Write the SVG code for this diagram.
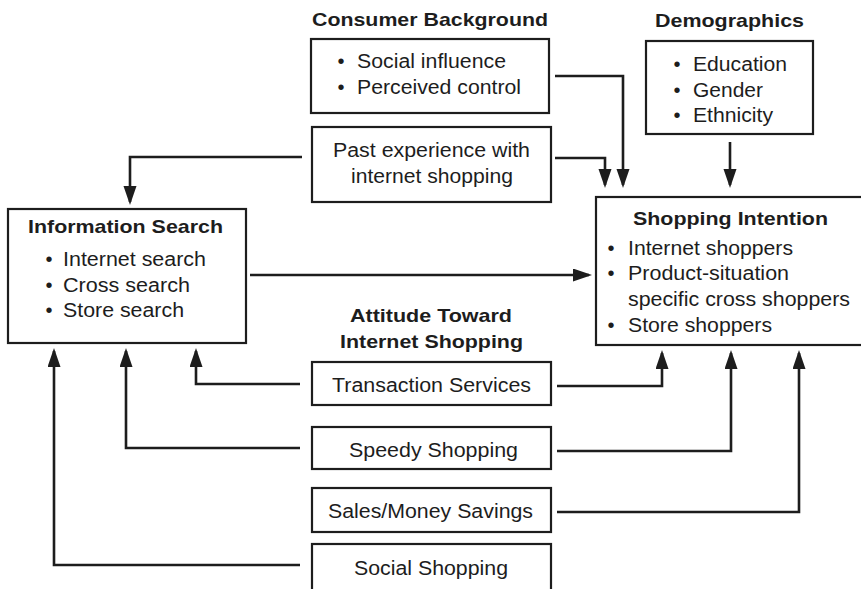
<svg xmlns="http://www.w3.org/2000/svg" width="861" height="589" viewBox="0 0 861 589">
  <style>
    .t { font-family: "Liberation Sans", Arial, Helvetica, sans-serif; font-size: 20px; fill: #1d1d1d; }
    .h { font-weight: bold; font-size: 19px; }
    .box { fill: #ffffff; stroke: #1d1d1d; stroke-width: 2.2; }
    .ln { fill: none; stroke: #1d1d1d; stroke-width: 2.6; stroke-linejoin: miter; marker-end: url(#ah); }
  </style>
  <defs>
    <marker id="ah" markerUnits="userSpaceOnUse" markerWidth="20" markerHeight="14" refX="16" refY="6.5" orient="auto">
      <path d="M0,0 L19,6.5 L0,13 Z" fill="#1d1d1d"/>
    </marker>
  </defs>
  <rect width="861" height="589" fill="#ffffff"/>

  <!-- connectors -->
  <g id="connectors">
    <!-- consumer background -> shopping intention -->
    <path class="ln" d="M555,76 H623 V185"/>
    <!-- past experience -> shopping intention -->
    <path class="ln" d="M555,158 H605 V185"/>
    <!-- past experience -> information search -->
    <path class="ln" d="M302,157 H130 V202"/>
    <!-- demographics -> shopping intention -->
    <path class="ln" d="M730,142 V185"/>
    <!-- information search -> shopping intention -->
    <path class="ln" d="M250,275 H589"/>
    <!-- attitude factors -> information search -->
    <path class="ln" d="M300,384 H196 V351"/>
    <path class="ln" d="M300,448 H126 V351"/>
    <path class="ln" d="M300,565 H54 V351"/>
    <!-- attitude factors -> shopping intention -->
    <path class="ln" d="M557,386 H662 V353"/>
    <path class="ln" d="M557,451 H731 V353"/>
    <path class="ln" d="M557,512 H799 V353"/>
  </g>

  <g id="consumer-background">
    <text class="t h" x="312" y="26" textLength="236" lengthAdjust="spacingAndGlyphs">Consumer Background</text>
    <rect class="box" x="311" y="39" width="238" height="74"/>
    <text class="t" x="337.5" y="68">•</text>
    <text class="t" x="357" y="68" textLength="149" lengthAdjust="spacingAndGlyphs">Social influence</text>
    <text class="t" x="337.5" y="94">•</text>
    <text class="t" x="357" y="94" textLength="164" lengthAdjust="spacingAndGlyphs">Perceived control</text>
  </g>

  <g id="past-experience">
    <rect class="box" x="312" y="127" width="239" height="75"/>
    <text class="t" x="333" y="157" textLength="197" lengthAdjust="spacingAndGlyphs">Past experience with</text>
    <text class="t" x="351" y="183" textLength="162" lengthAdjust="spacingAndGlyphs">internet shopping</text>
  </g>

  <g id="demographics">
    <text class="t h" x="655" y="27" textLength="149" lengthAdjust="spacingAndGlyphs">Demographics</text>
    <rect class="box" x="646" y="41" width="167" height="93"/>
    <text class="t" x="673.5" y="71">•</text>
    <text class="t" x="693" y="71" textLength="94" lengthAdjust="spacingAndGlyphs">Education</text>
    <text class="t" x="673.5" y="97">•</text>
    <text class="t" x="693" y="97" textLength="70" lengthAdjust="spacingAndGlyphs">Gender</text>
    <text class="t" x="673.5" y="122">•</text>
    <text class="t" x="693" y="122" textLength="80" lengthAdjust="spacingAndGlyphs">Ethnicity</text>
  </g>

  <g id="information-search">
    <rect class="box" x="8" y="209" width="238" height="134"/>
    <text class="t h" x="28" y="233" textLength="195" lengthAdjust="spacingAndGlyphs">Information Search</text>
    <text class="t" x="45.5" y="266">•</text>
    <text class="t" x="63" y="266" textLength="143" lengthAdjust="spacingAndGlyphs">Internet search</text>
    <text class="t" x="45.5" y="292">•</text>
    <text class="t" x="63" y="292" textLength="127" lengthAdjust="spacingAndGlyphs">Cross search</text>
    <text class="t" x="45.5" y="317">•</text>
    <text class="t" x="63" y="317" textLength="121" lengthAdjust="spacingAndGlyphs">Store search</text>
  </g>

  <g id="shopping-intention">
    <rect class="box" x="596" y="197" width="272" height="148"/>
    <text class="t h" x="633" y="225" textLength="195" lengthAdjust="spacingAndGlyphs">Shopping Intention</text>
    <text class="t" x="607.5" y="255">•</text>
    <text class="t" x="628" y="255" textLength="165" lengthAdjust="spacingAndGlyphs">Internet shoppers</text>
    <text class="t" x="607.5" y="280">•</text>
    <text class="t" x="628" y="280" textLength="161" lengthAdjust="spacingAndGlyphs">Product-situation</text>
    <text class="t" x="628" y="306" textLength="222" lengthAdjust="spacingAndGlyphs">specific cross shoppers</text>
    <text class="t" x="607.5" y="332">•</text>
    <text class="t" x="628" y="332" textLength="144" lengthAdjust="spacingAndGlyphs">Store shoppers</text>
  </g>

  <g id="attitude-title">
    <text class="t h" x="350" y="322" textLength="162" lengthAdjust="spacingAndGlyphs">Attitude Toward</text>
    <text class="t h" x="340" y="348" textLength="183" lengthAdjust="spacingAndGlyphs">Internet Shopping</text>
  </g>

  <g id="transaction-services">
    <rect class="box" x="312" y="362" width="239" height="43"/>
    <text class="t" x="332" y="392" textLength="199" lengthAdjust="spacingAndGlyphs">Transaction Services</text>
  </g>

  <g id="speedy-shopping">
    <rect class="box" x="312" y="427" width="239" height="42"/>
    <text class="t" x="349" y="457" textLength="169" lengthAdjust="spacingAndGlyphs">Speedy Shopping</text>
  </g>

  <g id="sales-money-savings">
    <rect class="box" x="312" y="488" width="239" height="44"/>
    <text class="t" x="328" y="518" textLength="205" lengthAdjust="spacingAndGlyphs">Sales/Money Savings</text>
  </g>

  <g id="social-shopping">
    <rect class="box" x="312" y="544" width="239" height="52"/>
    <text class="t" x="354" y="575" textLength="154" lengthAdjust="spacingAndGlyphs">Social Shopping</text>
  </g>
</svg>
